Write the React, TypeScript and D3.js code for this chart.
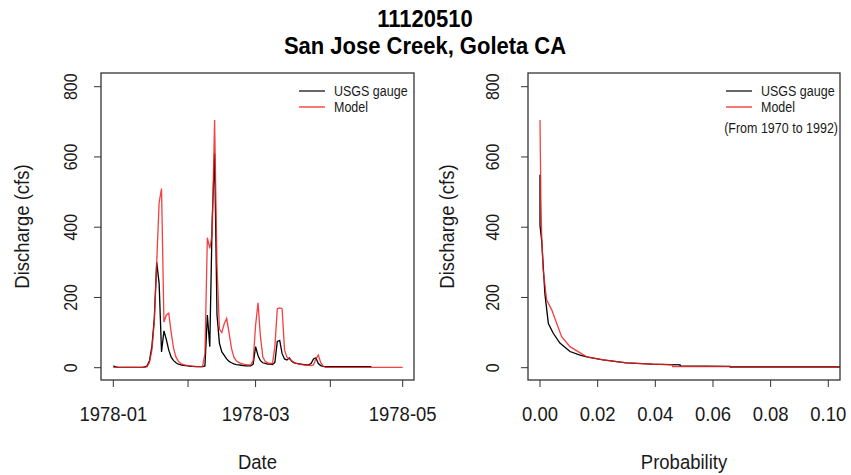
import React from "react";
import * as d3 from "d3";

// ---------- data ----------
const startDate = "1978-01-01";
// daily discharge (cfs), USGS gauge, from 1978-01-01
const gaugeDaily = [
  5, 2, 1, 1, 1, 1, 1, 1, 1, 1, 1, 1, 1, 2, 5, 20, 60, 140, 300, 240,
  45, 105, 80, 50, 30, 20, 14, 10, 8, 7, 6, 5, 4, 4, 3, 3, 3, 3, 5, 150,
  60, 420, 610, 150, 70, 45, 35, 25, 18, 14, 11, 9, 8, 7, 6, 5, 5, 5, 10, 60,
  35, 20, 14, 12, 10, 10, 9, 15, 75, 78, 40, 25, 22, 28, 18, 14, 12, 11, 10, 9,
  8, 8, 12, 25, 28, 12, 6, 4, 3, 3, 3, 3, 3, 3, 3, 3, 3, 3, 3, 3,
  3, 3, 3, 3, 3, 3, 3, 3,
];
// daily discharge (cfs), model, from 1978-01-01
const modelDaily = [
  1, 1, 1, 1, 1, 1, 1, 1, 1, 1, 1, 1, 1, 1, 3, 15, 50, 130, 300, 470,
  510, 130, 150, 155, 100, 55, 30, 18, 12, 9, 7, 6, 5, 4, 4, 3, 3, 3, 40, 370,
  340, 380, 705, 290, 110, 100, 125, 140, 100, 55, 30, 20, 15, 12, 10, 9, 8, 8, 20, 120,
  185, 90, 30, 18, 14, 12, 12, 60, 168, 170, 168, 50, 30, 25, 20, 15, 12, 10, 9, 8,
  7, 7, 6, 8, 25, 36, 15, 5, 1, 1, 1, 1, 1, 1, 1, 1, 1, 1, 1, 1,
  1, 1, 1, 1, 1, 1, 1, 1, 1, 1, 1, 1, 1, 1, 1, 1, 1, 1, 1, 1, 1,
];
// flow duration curves (exceedance probability, discharge)
const gaugeProb = [0, 0, 0.0006, 0.0017, 0.0029, 0.0046, 0.0069, 0.0104, 0.0139, 0.0162, 0.0219, 0.03, 0.039, 0.0486, 0.0486, 0.066, 0.066, 0.2];
const gaugeFdc = [549, 406, 360, 210, 126, 98, 70, 46, 36, 31, 22, 14, 10, 8, 5, 4, 2, 2];
const modelProb = [0, 0.0003, 0.0006, 0.0011, 0.0023, 0.0041, 0.0058, 0.0075, 0.0104, 0.0162, 0.0219, 0.03, 0.039, 0.046, 0.046, 0.066, 0.066, 0.2];
const modelFdc = [705, 480, 373, 278, 193, 164, 126, 88, 60, 31, 22, 14, 10, 8, 3, 3, 1, 1];

const yTicks = [0, 200, 400, 600, 800];
const dateTicks = ["1978-01-01", "1978-02-01", "1978-03-01", "1978-04-01", "1978-05-01"];
const dateTickLabels = ["1978-01", "", "1978-03", "", "1978-05"];
const probTicks = [0, 0.02, 0.04, 0.06, 0.08, 0.1];
const legendNames = ["USGS gauge", "Model"];
const seriesColors = ["#000000", "#f21e1e"];
const titleLines = ["11120510", "San Jose Creek, Goleta CA"];

// ---------- layout ----------
const W = 851, H = 475;
const FONT = "'Liberation Sans', Arial, sans-serif";
const boxTop = 73, boxBottom = 380;
const panels = [
  { left: 101, right: 414 },
  { left: 528, right: 840 },
];
const textCol = "#1a1a1a";
const axisCol = "#333";

const parse = d3.utcParse("%Y-%m-%d");

type TProps = {
  x: number; y: number; rot?: number; size: number; sy?: number;
  anchor?: string; bold?: boolean; children: React.ReactNode;
};
function T({ x, y, rot = 0, size, sy = 1.12, anchor = "middle", bold = false, children }: TProps) {
  return (
    <text
      transform={`translate(${x},${y}) rotate(${rot}) scale(1,${sy})`}
      textAnchor={anchor}
      fontSize={size}
      fontFamily={FONT}
      fontWeight={bold ? "bold" : "normal"}
      fill={bold ? "#000" : textCol}
    >
      {children}
    </text>
  );
}

export default function App() {
  const y = d3.scaleLinear().domain([0, 800]).range([367.7, 86.7]);

  const t0 = parse(startDate) as Date;
  const dayDate = (i: number) => d3.utcDay.offset(t0, i);
  const xDate = d3
    .scaleUtc()
    .domain([parse("1978-01-01") as Date, parse("1978-05-01") as Date])
    .range([113.3, 402.7]);
  const xProb = d3.scaleLinear().domain([0, 0.1]).range([540, 828.3]);

  const lineDate = d3
    .line<number>()
    .x((_, i) => xDate(dayDate(i)))
    .y((v) => y(v));

  const gaugeFdcPts = gaugeProb.map((p, i) => [p, gaugeFdc[i]] as [number, number]);
  const modelFdcPts = modelProb.map((p, i) => [p, modelFdc[i]] as [number, number]);
  const lineProb = d3
    .line<[number, number]>()
    .x((d) => xProb(d[0]))
    .y((d) => y(d[1]));

  const tickFont = 18.5;
  const yTickFont = 16;
  const labFont = 18.5;

  const yAxis = (p: { left: number }, labelX: number) => (
    <g>
      {yTicks.map((t) => (
        <g key={t}>
          <line x1={p.left - 7} x2={p.left} y1={y(t)} y2={y(t)} stroke={axisCol} />
          <T x={labelX} y={y(t)} rot={-90} size={yTickFont} sy={1.2}>{t}</T>
        </g>
      ))}
    </g>
  );

  const legend = (x0: number, extra: boolean) => (
    <g>
      {legendNames.map((n, i) => (
        <g key={n}>
          <line x1={x0} x2={x0 + 26} y1={91 + i * 16} y2={91 + i * 16} stroke={seriesColors[i]} strokeWidth={1.2} />
          <T x={x0 + 35} y={91 + i * 16 + 4.5} size={12.5} sy={1.1} anchor="start">{n}</T>
        </g>
      ))}
      {extra && (
        <T x={838} y={133} size={12.5} sy={1.1} anchor="end">(From 1970 to 1992)</T>
      )}
    </g>
  );

  return (
    <svg width={W} height={H} style={{ position: "absolute", left: 0, top: 0, background: "#fff" }}>
      <defs>
        <clipPath id="clipL">
          <rect x={panels[0].left} y={boxTop} width={panels[0].right - panels[0].left} height={boxBottom - boxTop} />
        </clipPath>
        <clipPath id="clipR">
          <rect x={panels[1].left} y={boxTop} width={panels[1].right - panels[1].left} height={boxBottom - boxTop} />
        </clipPath>
      </defs>
      <rect width={W} height={H} fill="#fff" />

      {/* title */}
      <T x={425} y={27} size={22} sy={1.1} bold>{titleLines[0]}</T>
      <T x={425} y={54} size={22} sy={1.1} bold>{titleLines[1]}</T>

      {/* left panel */}
      <g clipPath="url(#clipL)">
        <path d={lineDate(gaugeDaily) || ""} fill="none" stroke={seriesColors[0]} strokeWidth={1.3} />
        <path d={lineDate(modelDaily) || ""} fill="none" stroke={seriesColors[1]} strokeWidth={1.3} strokeOpacity={0.85} />
      </g>
      <rect x={panels[0].left} y={boxTop} width={panels[0].right - panels[0].left} height={boxBottom - boxTop} fill="none" stroke={axisCol} strokeWidth={1.3} />
      {yAxis(panels[0], 77)}
      {dateTicks.map((d, i) => {
        const xx = xDate(parse(d) as Date);
        return (
          <g key={d}>
            <line x1={xx} x2={xx} y1={boxBottom} y2={boxBottom + 7} stroke={axisCol} />
            {dateTickLabels[i] && (
              <T x={xx} y={421} size={tickFont}>{dateTickLabels[i]}</T>
            )}
          </g>
        );
      })}
      <T x={(panels[0].left + panels[0].right) / 2} y={469} size={labFont}>Date</T>
      <T x={29} y={(boxTop + boxBottom) / 2} rot={-90} size={labFont} sy={1.05}>Discharge (cfs)</T>
      {legend(299, false)}

      {/* right panel */}
      <g clipPath="url(#clipR)">
        <path d={lineProb(gaugeFdcPts) || ""} fill="none" stroke={seriesColors[0]} strokeWidth={1.3} />
        <path d={lineProb(modelFdcPts) || ""} fill="none" stroke={seriesColors[1]} strokeWidth={1.3} strokeOpacity={0.85} />
      </g>
      <rect x={panels[1].left} y={boxTop} width={panels[1].right - panels[1].left} height={boxBottom - boxTop} fill="none" stroke={axisCol} strokeWidth={1.3} />
      {yAxis(panels[1], 499)}
      {probTicks.map((p) => (
        <g key={p}>
          <line x1={xProb(p)} x2={xProb(p)} y1={boxBottom} y2={boxBottom + 7} stroke={axisCol} />
          <T x={xProb(p)} y={421} size={tickFont}>{d3.format(".2f")(p)}</T>
        </g>
      ))}
      <T x={(panels[1].left + panels[1].right) / 2} y={469} size={labFont}>Probability</T>
      <T x={454} y={(boxTop + boxBottom) / 2} rot={-90} size={labFont} sy={1.05}>Discharge (cfs)</T>
      {legend(726, true)}
    </svg>
  );
}
